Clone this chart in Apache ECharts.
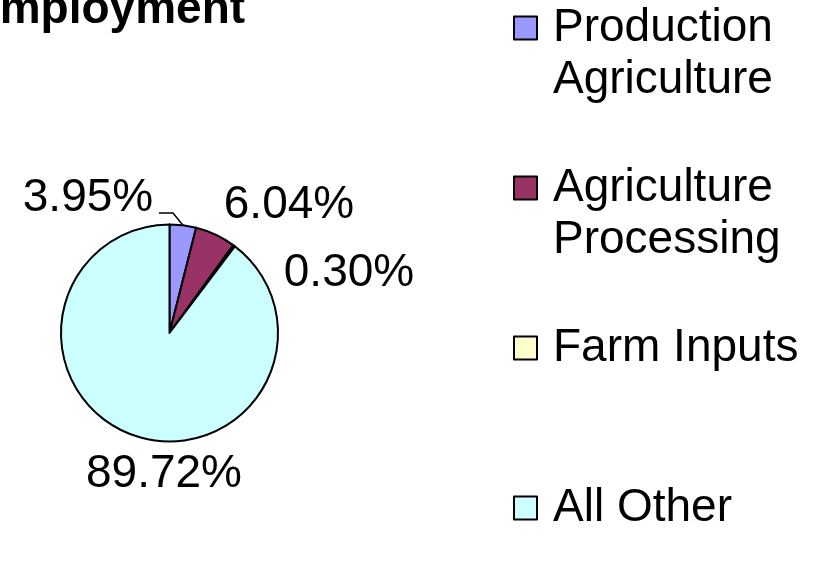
<!DOCTYPE html>
<html>
<head>
<meta charset="utf-8">
<script src="https://cdn.jsdelivr.net/npm/echarts@6/dist/echarts.min.js"></script>
<style>
	html, body { margin: 0; padding: 0; background: #fff; }
	#chart { width: 821px; height: 562px; }
</style>
</head>
<body>
<div id="chart"></div>
<script>
// slice names, shares (%) and colours
const categories = ['Production Agriculture', 'Agriculture Processing', 'Farm Inputs', 'All Other'];
const legendLabels = ['Production\nAgriculture', 'Agriculture\nProcessing', 'Farm Inputs', 'All Other'];
const shares = [3.95, 6.04, 0.3, 89.72];
const colors = ['#9999ff', '#993366', '#ffffcc', '#ccffff'];

const FONT = 'Arial, "Liberation Sans", sans-serif';
const LINE_H = 52;

// where each percent label sits (centre of text)
const labelSpots = [
	[88, 198],
	[289, 205],
	[349, 273],
	[164, 474],
];
// legend icon centres (y)
const legendY = [28, 188, 348, 508];

const chart = echarts.init(document.getElementById('chart'));

const legends = categories.map((name, i) => {
	const twoLines = legendLabels[i].indexOf('\n') >= 0;
	return {
		data: [name],
		left: 513,
		top: legendY[i] - (twoLines ? LINE_H * 1.5 : LINE_H / 2),
		padding: 0,
		orient: 'vertical',
		itemWidth: 23,
		itemHeight: 23,
		selectedMode: false,
		icon: 'rect',
		itemStyle: { borderColor: '#000', borderWidth: 2 },
		// a blank first line keeps the icon level with the first text line
		formatter: () => (twoLines ? ' \n' : '') + legendLabels[i],
		textStyle: {
			fontFamily: FONT,
			fontSize: 46,
			color: '#000',
			lineHeight: LINE_H,
			padding: [0, 0, 0, 11],
		},
	};
});

const option = {
	animation: false,
	backgroundColor: '#fff',
	color: colors,
	title: {
		text: 'Employment',
		left: -31,
		top: -13,
		padding: 0,
		textStyle: { fontFamily: FONT, fontSize: 46, fontWeight: 'bold', color: '#000' },
	},
	legend: legends,
	series: [
		{
			type: 'pie',
			center: [169.5, 333],
			radius: 108.5,
			startAngle: 90,
			clockwise: true,
			avoidLabelOverlap: false,
			itemStyle: { borderColor: '#000', borderWidth: 2 },
			emphasis: { disabled: true },
			label: {
				show: true,
				position: 'outside',
				formatter: (p) => p.value.toFixed(2) + '%',
				fontFamily: FONT,
				fontSize: 46,
				color: '#000',
			},
			labelLine: { show: false, lineStyle: { color: '#000', width: 1.5 } },
			labelLayout: (params) => {
				const spot = labelSpots[params.dataIndex];
				const res = { x: spot[0], y: spot[1], align: 'center', verticalAlign: 'middle' };
				if (params.dataIndex === 0 && params.labelLinePoints) {
					const edge = params.labelLinePoints[0];
					res.labelLinePoints = [edge, [173, 213], [159, 213]];
				}
				return res;
			},
			data: categories.map((name, i) => ({
				name: name,
				value: shares[i],
				labelLine: { show: i === 0 },
			})),
		},
	],
};

chart.setOption(option);
</script>
</body>
</html>
